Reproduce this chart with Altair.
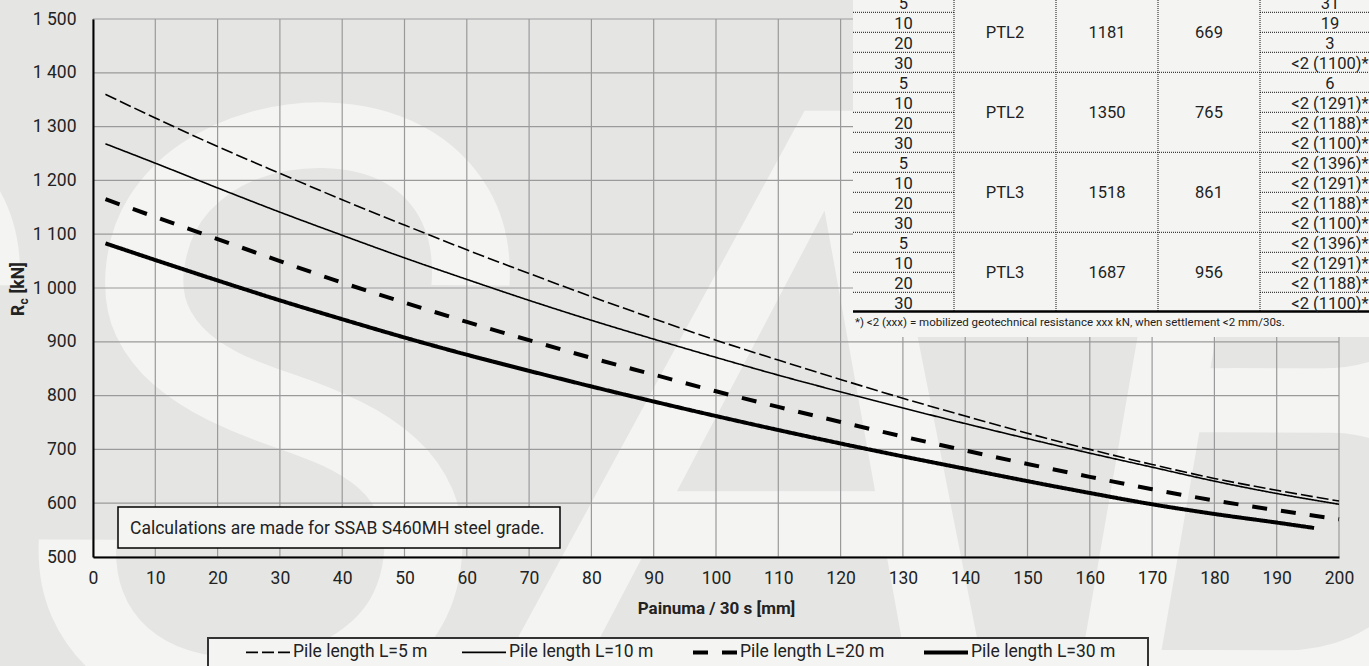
import altair as alt
import pandas as pd

FONT = "Roboto"

# ---------------- data ----------------
series_names = ["Pile length L=5 m", "Pile length L=10 m",
                "Pile length L=20 m", "Pile length L=30 m"]

x_mm = [2, 10, 20, 30, 40, 50, 60, 70, 80, 90, 100, 110, 120, 130, 140,
        150, 160, 170, 180, 190, 200]
rc_L5 = [1360, 1316, 1263, 1213, 1164, 1117, 1071, 1027, 984, 943, 903,
         866, 830, 795, 762, 730, 700, 672, 646, 624, 604]
rc_L10 = [1268, 1232, 1186, 1141, 1098, 1056, 1016, 977, 940, 905, 871,
          838, 807, 777, 748, 720, 693, 667, 641, 618, 598]
rc_L20 = [1165, 1132, 1091, 1050, 1010, 973, 937, 903, 870, 839, 808,
          779, 751, 724, 698, 673, 649, 626, 605, 587, 570]
x_mm_L30 = [2, 10, 20, 30, 40, 50, 60, 70, 80, 90, 100, 110, 120, 130, 140,
            150, 160, 170, 180, 190, 196]
rc_L30 = [1083, 1052, 1014, 977, 942, 908, 876, 846, 817, 789, 762,
          736, 711, 687, 664, 641, 619, 598, 580, 564, 554]

x_ticks = [0, 10, 20, 30, 40, 50, 60, 70, 80, 90, 100, 110, 120, 130, 140,
           150, 160, 170, 180, 190, 200]
y_ticks = [500, 600, 700, 800, 900, 1000, 1100, 1200, 1300, 1400, 1500]

# table overlay (top right)
tbl_pile_len = ["5", "10", "20", "30"]
tbl_profile = ["PTL2", "PTL2", "PTL3", "PTL3"]
tbl_col3 = ["1181", "1350", "1518", "1687"]
tbl_col4 = ["669", "765", "861", "956"]
tbl_col5 = [["31", "19", "3", "<2 (1100)*"],
            ["6", "<2 (1291)*", "<2 (1188)*", "<2 (1100)*"],
            ["<2 (1396)*", "<2 (1291)*", "<2 (1188)*", "<2 (1100)*"],
            ["<2 (1396)*", "<2 (1291)*", "<2 (1188)*", "<2 (1100)*"]]
footnote = "*) <2 (xxx) = mobilized geotechnical resistance xxx kN, when settlement <2 mm/30s."
note_text = "Calculations are made for SSAB S460MH steel grade."

# ---------------- layout ----------------
OX, OY = 93, 19          # plot origin on the page
W, H = 1246, 538
BG = "#e5e6e4"
LIGHT = "#f4f5f3"
TXT = "#222222"

rows = []
for name, xs, ys in [(series_names[0], x_mm, rc_L5), (series_names[1], x_mm, rc_L10),
                     (series_names[2], x_mm, rc_L20), (series_names[3], x_mm_L30, rc_L30)]:
    for a, b in zip(xs, ys):
        rows.append({"series": name, "x": a, "rc": b})
df = pd.DataFrame(rows)

xscale = alt.Scale(domain=[0, 200], nice=False, zero=False)
yscale = alt.Scale(domain=[500, 1500], nice=False, zero=False)

x_axis = alt.Axis(values=x_ticks, grid=False, ticks=False, domainColor="black",
                  domainWidth=2, labelFont=FONT, labelFontSize=17.5, labelColor=TXT,
                  labelPadding=12, labelFlush=False, title="Painuma / 30 s [mm]",
                  titleFont=FONT, titleFontSize=17, titleFontWeight="bold",
                  titleColor=TXT, titleY=51, titleBaseline="middle", zindex=1)
y_axis = alt.Axis(values=y_ticks, grid=False, ticks=False, domainColor="black",
                  domainWidth=2, labelFont=FONT, labelFontSize=17.5, labelColor=TXT,
                  labelPadding=17, labelFlush=False,
                  labelExpr="replace(format(datum.value, ','), ',', ' ')",
                  title=None, zindex=1)

dash_range = [[12, 4], [1, 0], [15, 14], [1, 0]]
legend = alt.Legend(
    orient="none", legendX=259.25 - OX, legendY=643.25 - OY, direction="horizontal",
    title=None, symbolType="stroke", symbolSize=44 * 44,
    symbolStrokeColor="black",
    symbolStrokeWidth=alt.ExprRef(
        expr="indexof(['Pile length L=20 m','Pile length L=30 m'], datum.value) >= 0 ? 4 : 1.6"),
    labelFont=FONT, labelFontSize=17.5, labelColor=TXT, labelOffset=16.25,
    columnPadding=30, padding=0, labelLimit=400)

one = pd.DataFrame({"a": [0]})


def px(v):
    return v - OX


def py(v):
    return v - OY


# watermark (large SSAB letters, light on grey)
watermark = alt.Chart(one).mark_text(
    text="SSAB", font=FONT, fontSize=850, fontStyle="italic", fontWeight="normal",
    color=LIGHT, align="left", baseline="alphabetic"
).encode(x=alt.value(px(-470)), y=alt.value(py(715)))

# grid
vgrid = alt.Chart(pd.DataFrame({"x": x_ticks})).mark_rule(
    color="#9a9a9a", strokeWidth=1.2).encode(x=alt.X("x:Q", scale=xscale, axis=x_axis))
hgrid = alt.Chart(pd.DataFrame({"rc": y_ticks})).mark_rule(
    color="#9a9a9a", strokeWidth=1.2).encode(y=alt.Y("rc:Q", scale=yscale, axis=y_axis))


def line_layer(names, width):
    return alt.Chart(df).transform_filter(
        alt.FieldOneOfPredicate(field="series", oneOf=names)
    ).mark_line(color="black", interpolate="monotone").encode(
        x=alt.X("x:Q", scale=xscale, axis=x_axis),
        y=alt.Y("rc:Q", scale=yscale, axis=y_axis),
        strokeDash=alt.StrokeDash("series:N", scale=alt.Scale(domain=series_names, range=dash_range),
                                  legend=legend),
        strokeWidth=alt.value(width),
    )


thin = line_layer(series_names[:2], 1.6)
thick = line_layer(series_names[2:], 4)

# ---------- table overlay ----------
T_L, T_R = 853, 1380
col_edges = [954, 1056, 1158, 1260]
col_cx = [903.5, 1005, 1107, 1209, 1330]
ROW0 = -7.7
RH = 20

table_bg = alt.Chart(one).mark_rect(color=LIGHT).encode(
    x=alt.value(px(T_L)), x2=alt.value(px(T_R)), y=alt.value(py(-20)), y2=alt.value(py(337)))

segs = []
for k in range(15):
    yb = ROW0 + RH * (k + 1)
    if (k + 1) % 4 == 0:
        segs.append({"x1": px(T_L), "x2": px(T_R), "y1": py(yb), "y2": py(yb)})
    else:
        segs.append({"x1": px(T_L), "x2": px(col_edges[0]), "y1": py(yb), "y2": py(yb)})
        segs.append({"x1": px(col_edges[3]), "x2": px(T_R), "y1": py(yb), "y2": py(yb)})
for ce in col_edges:
    segs.append({"x1": px(ce), "x2": px(ce), "y1": py(-10), "y2": py(311)})
segdf = pd.DataFrame(segs)
table_dots = alt.Chart(segdf).mark_rule(color="#111111", strokeWidth=1, strokeDash=[1, 1]).encode(
    x=alt.X("x1:Q", scale=None), x2="x2:Q",
    y=alt.Y("y1:Q", scale=None), y2="y2:Q")
table_thick = alt.Chart(one).mark_rule(color="black", strokeWidth=2.5).encode(
    x=alt.value(px(T_L)), x2=alt.value(px(T_R)), y=alt.value(py(311.5)))

cells = []
for g in range(4):
    gc = ROW0 + 80 * g + 40 + 5.8
    cells.append({"x": px(col_cx[1]), "y": py(gc), "t": tbl_profile[g]})
    cells.append({"x": px(col_cx[2]), "y": py(gc), "t": tbl_col3[g]})
    cells.append({"x": px(col_cx[3]), "y": py(gc), "t": tbl_col4[g]})
    for r in range(4):
        k = 4 * g + r
        yb = ROW0 + RH * (k + 1) - 3.5
        cells.append({"x": px(col_cx[0]), "y": py(yb), "t": tbl_pile_len[r]})
        cells.append({"x": px(col_cx[4]), "y": py(yb), "t": tbl_col5[g][r]})
celldf = pd.DataFrame(cells)
table_text = alt.Chart(celldf).mark_text(
    font=FONT, fontSize=16.5, color=TXT, align="center", baseline="alphabetic"
).encode(x=alt.X("x:Q", scale=None), y=alt.Y("y:Q", scale=None), text="t:N")

foot = alt.Chart(pd.DataFrame({"t": [footnote]})).mark_text(
    font=FONT, fontSize=11.5, color=TXT, align="left", baseline="alphabetic"
).encode(x=alt.value(px(855)), y=alt.value(py(326)), text="t:N")

# ---------- note box ----------
note_rect = alt.Chart(one).mark_rect(color=LIGHT, stroke="black", strokeWidth=1.5).encode(
    x=alt.value(px(118)), x2=alt.value(px(560)), y=alt.value(py(507)), y2=alt.value(py(548)))
note = alt.Chart(pd.DataFrame({"t": [note_text]})).mark_text(
    font=FONT, fontSize=17.5, color=TXT, align="left", baseline="alphabetic"
).encode(x=alt.value(px(130)), y=alt.value(py(534)), text="t:N")

# ---------- legend box ----------
legend_rect = alt.Chart(one).mark_rect(color=LIGHT, stroke="#333333", strokeWidth=2).encode(
    x=alt.value(px(208)), x2=alt.value(px(1148)), y=alt.value(py(638)), y2=alt.value(py(700)))

# ---------- y title with subscript ----------
yt_R = alt.Chart(pd.DataFrame({"t": ["R"]})).mark_text(
    font=FONT, fontSize=17.5, fontWeight="bold", color=TXT, angle=270,
    align="left", baseline="alphabetic").encode(
    x=alt.value(px(24)), y=alt.value(py(316)), text="t:N")
yt_c = alt.Chart(pd.DataFrame({"t": ["c"]})).mark_text(
    font=FONT, fontSize=12, fontWeight="bold", color=TXT, angle=270,
    align="left", baseline="alphabetic").encode(
    x=alt.value(px(28)), y=alt.value(py(304.5)), text="t:N")
yt_kN = alt.Chart(pd.DataFrame({"t": ["[kN]"]})).mark_text(
    font=FONT, fontSize=17.5, fontWeight="bold", color=TXT, angle=270,
    align="left", baseline="alphabetic").encode(
    x=alt.value(px(24)), y=alt.value(py(293.5)), text="t:N")

chart = alt.layer(
    watermark, vgrid, hgrid, thin, thick,
    table_bg, table_dots, table_thick, table_text, foot,
    note_rect, note, legend_rect, yt_R, yt_c, yt_kN
).properties(
    width=W, height=H,
    padding={"left": OX, "top": OY, "right": 1369 - OX - W, "bottom": 666 - OY - H},
    autosize=alt.AutoSizeParams(type="none"),
    background=BG,
).configure_view(strokeWidth=0)

chart.save("out.html", embed_options={"renderer": "svg", "actions": False})
